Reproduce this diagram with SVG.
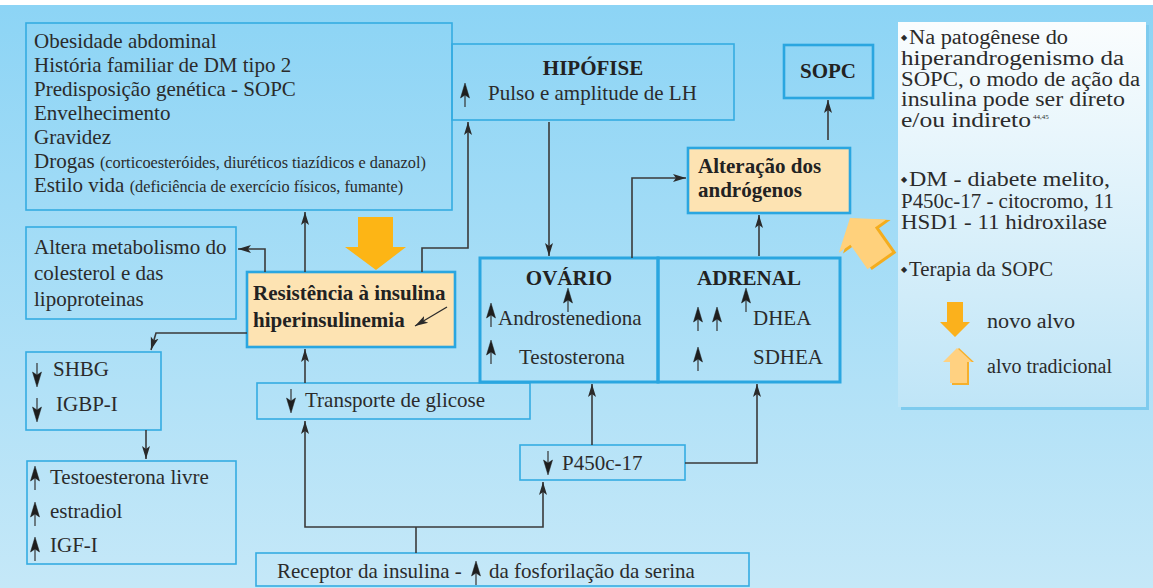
<svg xmlns="http://www.w3.org/2000/svg" width="1153" height="588" viewBox="0 0 1153 588">
<defs>
<linearGradient id="bg" x1="0" y1="0" x2="0" y2="1"><stop offset="0" stop-color="#8cd4f5"/><stop offset="1" stop-color="#c5e8f8"/></linearGradient>
<linearGradient id="pn" x1="0" y1="0" x2="0" y2="1"><stop offset="0" stop-color="#fafdfe"/><stop offset="1" stop-color="#bfe5f7"/></linearGradient>
<marker id="ah" markerUnits="userSpaceOnUse" markerWidth="14" markerHeight="10" refX="13" refY="5" orient="auto"><path d="M0,1 L13,5 L0,9 L3,5 z" fill="#2a2a2a"/></marker>
<g id="ua"><path d="M0,0 L4.5,15 L0,12 L-4.5,15 z" fill="#1e1e1e" stroke="#1e1e1e" stroke-width="0.5"/><line x1="0" y1="12" x2="0" y2="24" stroke="#333" stroke-width="1.2"/></g>
<style>
.bx{fill:none;stroke:#35ace2;stroke-width:1.6}
.bk{fill:none;stroke:#2aa6e0;stroke-width:3}
.pc{fill:#fde3b2;stroke:#2aa6e0;stroke-width:2.6}
.t{font-family:"Liberation Serif",serif;font-size:21px;fill:#2b2b2b}
.b{font-family:"Liberation Serif",serif;font-size:21px;font-weight:bold;fill:#222}
.s{font-family:"Liberation Serif",serif;font-size:16.3px;fill:#2b2b2b}
.p{font-family:"Liberation Serif",serif;font-size:20px;fill:#2b2b2b}
.sup{font-family:"Liberation Serif",serif;font-size:7px;fill:#2b2b2b}
.d{font-family:"DejaVu Sans",sans-serif;font-size:8px;fill:#2b2b2b}
.c{fill:none;stroke:#3a3a3a;stroke-width:1.6}
</style>
</defs>
<rect x="0" y="0" width="1153" height="588" fill="url(#bg)"/>
<rect x="0" y="0" width="1153" height="5" fill="#ffffff"/>

<g id="fatores">
<rect class="bx" x="26" y="23" width="426" height="187"/>
<text class="t" x="34" y="47.5">Obesidade abdominal</text>
<text class="t" x="34" y="71.5">História familiar de DM tipo 2</text>
<text class="t" x="34" y="95.5">Predisposição genética - SOPC</text>
<text class="t" x="34" y="119.5">Envelhecimento</text>
<text class="t" x="34" y="143.5">Gravidez</text>
<text class="t" x="34" y="167.5">Drogas <tspan class="s">(corticoesteróides, diuréticos tiazídicos e danazol)</tspan></text>
<text class="t" x="34" y="191.5">Estilo vida <tspan class="s">(deficiência de exercício físicos, fumante)</tspan></text>
</g>

<g id="hipofise">
<rect class="bx" x="452" y="44" width="282" height="76"/>
<text class="b" x="593" y="75" text-anchor="middle">HIPÓFISE</text>
<use href="#ua" x="465" y="83"/>
<text class="t" x="488" y="100">Pulso e amplitude de LH</text>
</g>

<g id="sopc">
<rect x="784" y="45" width="89" height="53" fill="none" stroke="#2aa6e0" stroke-width="2.6"/>
<text class="b" x="828" y="78" text-anchor="middle">SOPC</text>
</g>

<g id="alteracao">
<rect class="pc" x="688" y="148" width="162" height="65"/>
<text class="b" x="698" y="173">Alteração dos</text>
<text class="b" x="698" y="197">andrógenos</text>
</g>

<g id="resistencia">
<rect class="pc" x="247" y="272" width="208" height="75"/>
<text class="b" x="253" y="300">Resistência à insulina</text>
<text class="b" x="253" y="327">hiperinsulinemia</text>
<line x1="447" y1="307" x2="415" y2="326" stroke="#2a2a2a" stroke-width="1.3" marker-end="url(#ah)"/>
</g>

<g id="altera">
<rect class="bx" x="26" y="227" width="210" height="92"/>
<text class="t" x="34" y="254">Altera metabolismo do</text>
<text class="t" x="34" y="280">colesterol e das</text>
<text class="t" x="34" y="306">lipoproteinas</text>
</g>

<g id="shbg">
<rect class="bx" x="26" y="352" width="135" height="78"/>
<use href="#ua" transform="translate(37,387) rotate(180)"/>
<text class="t" x="53" y="376">SHBG</text>
<use href="#ua" transform="translate(37,422) rotate(180)"/>
<text class="t" x="56" y="411">IGBP-I</text>
</g>

<g id="testosterona">
<rect class="bx" x="27" y="461" width="209" height="103"/>
<use href="#ua" x="35" y="466"/>
<text class="t" x="50" y="484">Testoesterona livre</text>
<use href="#ua" x="35" y="502"/>
<text class="t" x="50" y="518">estradiol</text>
<use href="#ua" x="35" y="537"/>
<text class="t" x="50" y="552">IGF-I</text>
</g>

<g id="transporte">
<rect class="bx" x="257" y="383" width="273" height="36"/>
<use href="#ua" transform="translate(291,413) rotate(180)"/>
<text class="t" x="305" y="407">Transporte de glicose</text>
</g>

<g id="ovario">
<rect class="bk" x="480" y="258" width="178" height="124"/>
<text class="b" x="569" y="285" text-anchor="middle">OVÁRIO</text>
<use href="#ua" x="568" y="288"/>
<use href="#ua" x="491" y="303"/>
<text class="t" x="498" y="325">Androstenediona</text>
<use href="#ua" x="491" y="340"/>
<text class="t" x="519" y="364">Testosterona</text>
</g>

<g id="adrenal">
<rect class="bk" x="658" y="258" width="182" height="124"/>
<text class="b" x="749" y="285" text-anchor="middle">ADRENAL</text>
<use href="#ua" x="746" y="288"/>
<use href="#ua" x="698" y="307"/>
<use href="#ua" x="717" y="307"/>
<text class="t" x="753" y="325">DHEA</text>
<use href="#ua" x="698" y="347"/>
<text class="t" x="753" y="364">SDHEA</text>
</g>

<g id="p450">
<rect class="bx" x="520" y="445" width="165" height="35"/>
<use href="#ua" transform="translate(548,475) rotate(180)"/>
<text class="t" x="562" y="470">P450c-17</text>
</g>

<g id="receptor">
<rect class="bx" x="256" y="553" width="493" height="33"/>
<text class="t" x="277" y="578">Receptor da insulina -</text>
<use href="#ua" x="476" y="561"/>
<text class="t" x="489" y="578">da fosforilação da serina</text>
</g>

<g id="connectors">
<path class="c" d="M305,272 V212" marker-end="url(#ah)"/>
<path class="c" d="M265,272 V249 H238" marker-end="url(#ah)"/>
<path class="c" d="M422,272 V248 H468 V122" marker-end="url(#ah)"/>
<path class="c" d="M247,333 H156 L151,350" marker-end="url(#ah)"/>
<path class="c" d="M146,430 V459" marker-end="url(#ah)"/>
<path class="c" d="M305,383 V349" marker-end="url(#ah)"/>
<path class="c" d="M416,553 V527"/>
<path class="c" d="M416,527 H305 V421" marker-end="url(#ah)"/>
<path class="c" d="M416,527 H543 V482" marker-end="url(#ah)"/>
<path class="c" d="M592,445 V384" marker-end="url(#ah)"/>
<path class="c" d="M685,463 H757 V384" marker-end="url(#ah)"/>
<path class="c" d="M549,122 V256" marker-end="url(#ah)"/>
<path class="c" d="M632,258 V178 H686" marker-end="url(#ah)"/>
<path class="c" d="M759,256 V215" marker-end="url(#ah)"/>
<path class="c" d="M828,140 V100" marker-end="url(#ah)"/>
</g>

<g id="seta-novo-alvo">
<polygon points="358,217 393,217 393,247 406,247 376,270 345,247 358,247" fill="#fdb515"/>
</g>

<g id="seta-alvo-tradicional" transform="translate(850,218) rotate(-35)">
<polygon points="0,0 29,22 15,22 15,52 -15,52 -15,22 -29,22" fill="#f4ad1e" transform="translate(3,3)"/>
<polygon points="0,0 29,22 15,22 15,52 -15,52 -15,22 -29,22" fill="#ffd17c"/>
</g>

<g id="legenda">
<rect x="901" y="25" width="248" height="385" fill="#7ecbee"/>
<rect x="898" y="22" width="248" height="385" fill="url(#pn)"/>
<text class="d" x="901" y="40">◆</text>
<text class="p" x="909" y="44" textLength="159" lengthAdjust="spacingAndGlyphs">Na patogênese do</text>
<text class="p" x="901" y="65" textLength="223" lengthAdjust="spacingAndGlyphs">hiperandrogenismo da</text>
<text class="p" x="901" y="86" textLength="239" lengthAdjust="spacingAndGlyphs">SOPC, o modo de ação da</text>
<text class="p" x="901" y="106" textLength="224" lengthAdjust="spacingAndGlyphs">insulina pode ser direto</text>
<text class="p" x="901" y="127" textLength="130" lengthAdjust="spacingAndGlyphs">e/ou indireto</text>
<text class="sup" x="1033" y="119">44,45</text>
<text class="d" x="901" y="182">◆</text>
<text class="p" x="909" y="186" textLength="201" lengthAdjust="spacingAndGlyphs">DM - diabete melito,</text>
<text class="p" x="901" y="208" textLength="213" lengthAdjust="spacingAndGlyphs">P450c-17 - citocromo, 11</text>
<text class="p" x="901" y="229" textLength="206" lengthAdjust="spacingAndGlyphs">HSD1 - 11 hidroxilase</text>
<text class="d" x="901" y="272">◆</text>
<text class="p" x="909" y="276" textLength="144" lengthAdjust="spacingAndGlyphs">Terapia da SOPC</text>
<polygon points="947,302 963,302 963,322 970,322 955,337 940,322 947,322" fill="#fbb11c"/>
<text class="p" x="987" y="328" textLength="88" lengthAdjust="spacingAndGlyphs">novo alvo</text>
<polygon points="959,348 974,362 969,362 969,385 952,385 952,362 945,362" fill="#f6b02c"/>
<polygon points="957,348 972,362 967,362 967,383 950,383 950,362 943,362" fill="#ffd181"/>
<text class="p" x="987" y="373" textLength="125" lengthAdjust="spacingAndGlyphs">alvo tradicional</text>
</g>
</svg>
